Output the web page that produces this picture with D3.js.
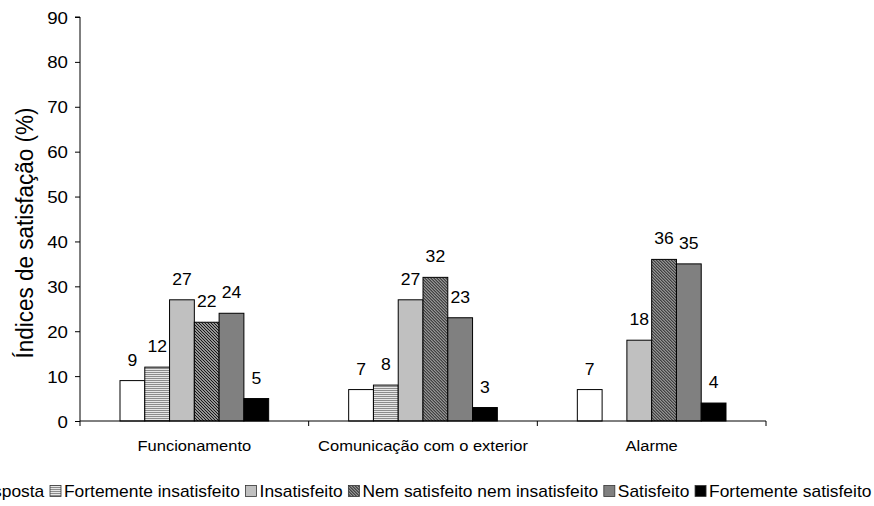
<!DOCTYPE html>
<html>
<head>
<meta charset="utf-8">
<script src="https://cdn.jsdelivr.net/npm/d3@7/dist/d3.min.js"></script>
<style>
  html, body { margin: 0; padding: 0; background: #fff; }
  svg { display: block; font-family: "Liberation Sans", Arial, sans-serif; }
</style>
</head>
<body>
<svg id="chart" width="874" height="506"></svg>
<script>
// Categories, series and values
const categories = ["Funcionamento", "Comunicação com o exterior", "Alarme"];
const seriesNames = ["Sem resposta", "Fortemente insatisfeito", "Insatisfeito",
                     "Nem satisfeito nem insatisfeito", "Satisfeito", "Fortemente satisfeito"];
const funcionamento = [9, 12, 27, 22, 24, 5];
const comunicacao   = [7, 8, 27, 32, 23, 3];
const alarme        = [7, null, 18, 36, 35, 4];
const yTicks = [0, 10, 20, 30, 40, 50, 60, 70, 80, 90];
const yTitle = "Índices de satisfação (%)";

const valuesByCategory = [funcionamento, comunicacao, alarme];

const svg = d3.select("#chart");
const SX = 1.1; // text is slightly wide

// Fills: plain, striped, hatched
const defs = svg.append("defs");
const stripes = defs.append("pattern").attr("id", "stripes")
  .attr("patternUnits", "userSpaceOnUse").attr("width", 4).attr("height", 2);
stripes.append("rect").attr("width", 4).attr("height", 2).attr("fill", "#e6e6e6");
stripes.append("rect").attr("width", 4).attr("height", 1).attr("fill", "#8c8c8c");

const hatch = defs.append("pattern").attr("id", "hatch")
  .attr("patternUnits", "userSpaceOnUse").attr("width", 3).attr("height", 3);
hatch.append("rect").attr("width", 3).attr("height", 3).attr("fill", "#d0d0d0");
hatch.append("path").attr("d", "M-1,-1 L4,4 M-1,2 L1,4 M2,-1 L4,1")
  .attr("stroke", "#111").attr("stroke-width", 1.2);

const fills = ["#ffffff", "url(#stripes)", "#c0c0c0", "url(#hatch)", "#808080", "#000000"];

// Scales
const plot = { left: 80, right: 766, top: 17, bottom: 421 };
const x0 = d3.scaleBand().domain(categories).range([plot.left, plot.right]).padding(0);
const x1 = d3.scaleBand().domain(d3.range(seriesNames.length))
  .range([40, x0.bandwidth() - 40]).padding(0);
const y = d3.scaleLinear().domain([0, 90]).range([plot.bottom, plot.top]);

function stretchedText(sel, x, yy) {
  return sel.attr("transform", `translate(${x},${yy}) scale(${SX},1)`);
}

// Bars
const groups = svg.append("g").selectAll("g").data(categories).join("g")
  .attr("transform", d => `translate(${x0(d)},0)`);

groups.each(function(cat, ci) {
  const g = d3.select(this);
  const vals = valuesByCategory[ci].map((v, i) => ({ v, i })).filter(d => d.v != null);
  g.selectAll("rect").data(vals).join("rect")
    .attr("x", d => x1(d.i))
    .attr("y", d => y(d.v))
    .attr("width", x1.bandwidth())
    .attr("height", d => y(0) - y(d.v))
    .attr("fill", d => fills[d.i])
    .attr("stroke", "#000").attr("stroke-width", 1);
  g.selectAll("text").data(vals).join("text")
    .each(function(d) {
      stretchedText(d3.select(this), x1(d.i) + x1.bandwidth() / 2, y(d.v) - 15);
    })
    .attr("text-anchor", "middle")
    .attr("font-size", 16)
    .attr("fill", "#000")
    .text(d => d.v);
});

// Y axis
const yAxis = svg.append("g").attr("transform", `translate(${plot.left},0)`)
  .call(d3.axisLeft(y).tickValues(yTicks).tickSize(5).tickPadding(4));
yAxis.select(".domain").attr("stroke", "#000").attr("d", `M0,${plot.bottom}V${plot.top}M-5,${plot.top}H0`);
yAxis.selectAll(".tick line").attr("stroke", "#000");
yAxis.selectAll(".tick text")
  .attr("font-family", null).attr("font-size", 17).attr("fill", "#000")
  .attr("x", null).attr("dy", null)
  .each(function() {
    d3.select(this).attr("transform", `translate(-12,6) scale(${SX},1)`);
  });

// X axis with ticks at category boundaries
const xg = svg.append("g").attr("transform", `translate(0,${plot.bottom})`);
xg.append("line").attr("x1", plot.left).attr("x2", plot.right)
  .attr("stroke", "#000");
const bounds = categories.map(c => x0(c)).concat([x0(categories[categories.length - 1]) + x0.bandwidth()]);
xg.selectAll("line.tick").data(bounds).join("line").attr("class", "tick")
  .attr("x1", d => d).attr("x2", d => d).attr("y1", 0).attr("y2", 5)
  .attr("stroke", "#000");
xg.selectAll("text").data(categories).join("text")
  .each(function(d) {
    stretchedText(d3.select(this), x0(d) + x0.bandwidth() / 2, 30);
  })
  .attr("text-anchor", "middle").attr("font-size", 15).attr("fill", "#000")
  .text(d => d);

// Y title
svg.append("text")
  .attr("transform", `translate(33,233) rotate(-90) scale(1,1.05)`)
  .attr("text-anchor", "middle").attr("font-size", 22.5).attr("fill", "#000")
  .text(yTitle);

// Legend: one row, wider than the window, running off the left edge
const legend = svg.append("g");
const legendY = 497;
const legendFont = 16;
const legendSX = 1.087;
let cx = 0;
const items = [];
seriesNames.forEach((name, i) => {
  const it = legend.append("g");
  it.append("rect").attr("x", 0).attr("y", -11.5).attr("width", 11).attr("height", 11)
    .attr("fill", fills[i]).attr("stroke", "#333").attr("stroke-width", 0.8);
  const t = it.append("text").attr("font-size", legendFont).attr("fill", "#000")
    .attr("transform", `translate(14,0) scale(${legendSX},1)`).text(name);
  const w = 14 + t.node().getComputedTextLength() * legendSX;
  items.push({ it, start: cx, w });
  cx += w + 5.7;
});
// Second entry's swatch starts just right of the left edge
const offset = 50 - items[1].start;
items.forEach(d => d.it.attr("transform", `translate(${d.start + offset},${legendY})`));
</script>
</body>
</html>
